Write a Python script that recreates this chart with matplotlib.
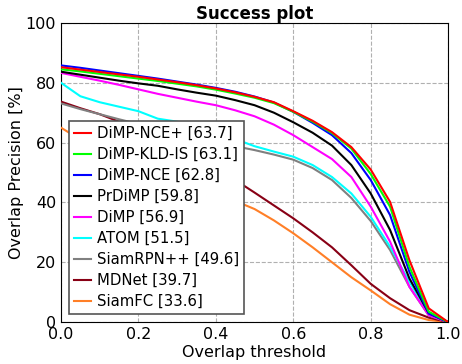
import numpy as np
import matplotlib
matplotlib.use('Agg')
import matplotlib.pyplot as plt

# overlap thresholds
thresholds = np.linspace(0.0, 1.0, 21)

trackers = ['DiMP-NCE+', 'DiMP-KLD-IS', 'DiMP-NCE', 'PrDiMP', 'DiMP',
            'ATOM', 'SiamRPN++', 'MDNet', 'SiamFC']
auc = [63.7, 63.1, 62.8, 59.8, 56.9, 51.5, 49.6, 39.7, 33.6]

dimp_nce_plus = [85.2, 84.4, 83.6, 82.8, 82.0, 81.1, 80.2, 79.2, 78.1, 76.8, 75.3,
                 73.5, 70.5, 67.3, 63.5, 58.5, 51.0, 40.2, 20.7, 4.6, 0.0]
dimp_kld_is = [84.5, 83.8, 83.0, 82.2, 81.4, 80.6, 79.7, 78.8, 77.7, 76.4, 75.0,
               73.2, 70.3, 67.0, 63.2, 58.0, 49.5, 38.6, 18.5, 3.5, 0.0]
dimp_nce = [85.8, 85.0, 84.1, 83.2, 82.3, 81.4, 80.4, 79.4, 78.3, 77.0, 75.4,
            73.4, 70.3, 66.6, 62.5, 56.5, 47.5, 35.8, 16.8, 2.9, 0.0]
prdimp = [83.7, 82.7, 81.7, 80.7, 79.8, 79.0, 77.8, 76.7, 75.7, 74.2, 72.5,
          70.0, 66.8, 63.3, 59.0, 52.5, 43.0, 30.8, 14.6, 3.0, 0.0]
dimp = [83.3, 82.0, 80.7, 79.3, 77.8, 76.3, 75.0, 73.7, 72.5, 70.8, 68.8,
        66.0, 62.5, 58.5, 54.5, 48.5, 38.6, 26.9, 11.8, 2.3, 0.0]
atom = [80.0, 75.5, 73.5, 72.0, 70.5, 68.0, 67.0, 65.5, 63.5, 61.2, 58.8,
        57.0, 55.3, 52.5, 48.5, 43.0, 35.2, 25.2, 13.5, 2.9, 0.0]
siamrpn = [73.1, 71.2, 69.5, 67.8, 66.2, 64.6, 63.0, 61.5, 60.0, 58.8, 57.5,
           56.0, 54.3, 51.5, 47.5, 41.5, 33.8, 24.1, 11.8, 2.2, 0.0]
mdnet = [73.7, 71.5, 69.5, 67.0, 64.5, 61.5, 58.5, 55.0, 51.5, 47.5, 43.3,
         39.0, 34.7, 30.0, 25.0, 19.0, 12.8, 8.0, 4.0, 1.5, 0.0]
siamfc = [65.0, 61.0, 58.0, 55.5, 53.0, 50.5, 48.0, 45.5, 43.0, 40.5, 37.8,
          34.0, 29.7, 25.0, 20.0, 15.0, 10.6, 6.0, 2.5, 0.7, 0.0]

curves = [dimp_nce_plus, dimp_kld_is, dimp_nce, prdimp, dimp,
          atom, siamrpn, mdnet, siamfc]
colors = [(1, 0, 0), (0, 1, 0), (0, 0, 1), (0, 0, 0), (1, 0, 1),
          (0, 1, 1), (0.5, 0.5, 0.5), (136/255, 0, 21/255), (1, 127/255, 39/255)]

fig = plt.figure(figsize=(4.62, 3.64), dpi=100)
ax = fig.add_axes([0.132, 0.115, 0.838, 0.822])

n = len(curves)
for i, (name, a, vals, c) in enumerate(zip(trackers, auc, curves, colors)):
    ax.plot(thresholds, vals, color=c, linewidth=1.5,
            label=f'{name} [{a:.1f}]', zorder=10 + n - i)

ax.set_xlim(0, 1)
ax.set_ylim(0, 100)
ax.set_xticks([0.0, 0.2, 0.4, 0.6, 0.8, 1.0])
ax.set_yticks([0, 20, 40, 60, 80, 100])
ax.tick_params(labelsize=11.5, length=0, pad=3.5)
ax.grid(True, linestyle='--', color='#b0b0b0', linewidth=0.8)
ax.set_xlabel('Overlap threshold', fontsize=11.5, labelpad=2)
ax.set_ylabel('Overlap Precision [%]', fontsize=11.5, labelpad=1)
ax.set_title('Success plot', fontsize=12, fontweight='bold', pad=2)

leg = ax.legend(loc='lower left', fontsize=10.7, handlelength=1.15,
                handletextpad=0.35, labelspacing=0.4, borderpad=0.35,
                borderaxespad=0.55, fancybox=False, framealpha=1.0,
                edgecolor='#555555')
leg.set_zorder(30)
leg.get_frame().set_linewidth(1.2)

fig.savefig('out.png', dpi=100)
